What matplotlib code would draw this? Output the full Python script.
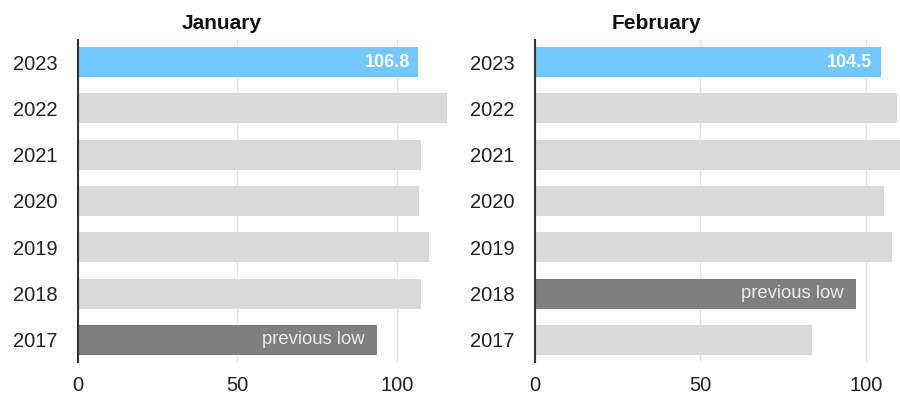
import matplotlib.pyplot as plt

plt.rcParams['font.family'] = ['Liberation Sans', 'DejaVu Sans']

years = ["2017", "2018", "2019", "2020", "2021", "2022", "2023"]
jan_values = [93.8, 107.6, 110.1, 107.0, 107.6, 115.8, 106.8]
feb_values = [83.6, 96.9, 108.0, 105.4, 111.0, 109.3, 104.5]
jan_low = "2017"
feb_low = "2018"

BLUE = "#73C8FF"
LIGHT = "#D9D9D9"
DARK = "#7F7F7F"


def draw_panel(ax, title, title_x, values, low_year, xmax):
    colors = []
    for y in years:
        if y == "2023":
            colors.append(BLUE)
        elif y == low_year:
            colors.append(DARK)
        else:
            colors.append(LIGHT)
    pos = list(range(len(years)))
    ax.barh(pos, values, height=0.65, color=colors, zorder=2)
    ax.set_xlim(0, xmax)
    ax.set_ylim(-0.475, 6.475)
    ax.set_yticks(pos)
    ax.set_yticklabels(years, fontsize=14.5, color="#222222")
    ax.set_xticks([0, 50, 100])
    ax.set_xticklabels(["0", "50", "100"], fontsize=14.5, color="#222222")
    ax.tick_params(axis="both", length=0)
    ax.tick_params(axis="y", pad=14.5)
    ax.tick_params(axis="x", pad=10)
    ax.grid(axis="x", color="#E3E3E3", linewidth=1, zorder=0)
    ax.set_axisbelow(True)
    for s in ["top", "right", "bottom"]:
        ax.spines[s].set_visible(False)
    ax.spines["left"].set_color("#333333")
    ax.spines["left"].set_linewidth(1.5)
    ax.spines["left"].set_zorder(3)
    # title sits over the whole panel incl. the year labels, not just the axes
    ax.set_title(title, x=title_x, fontsize=15, fontweight="bold", pad=8,
                 color="#111111")

    i = years.index("2023")
    ax.annotate(f"{values[i]:.1f}", xy=(values[i], i), xytext=(-6, 0),
                textcoords="offset points", ha="right", va="center",
                color="white", fontsize=13, fontweight="bold", zorder=4)
    j = years.index(low_year)
    ax.annotate("previous low", xy=(values[j], j), xytext=(-9, 0),
                textcoords="offset points", ha="right", va="center",
                color="#EBEBEB", fontsize=13.3, zorder=4)


fig = plt.figure(figsize=(9, 4.01), dpi=100)
bottom = 1 - 362 / 401
height = 322 / 401
ax1 = fig.add_axes([78 / 900, bottom, 370 / 900, height])
ax2 = fig.add_axes([535 / 900, bottom, 365 / 900, height])

draw_panel(ax1, "January", 0.389, jan_values, jan_low, 116.1)
draw_panel(ax2, "February", 0.332, feb_values, feb_low, 110.3)

fig.savefig("out.png", dpi=100)
